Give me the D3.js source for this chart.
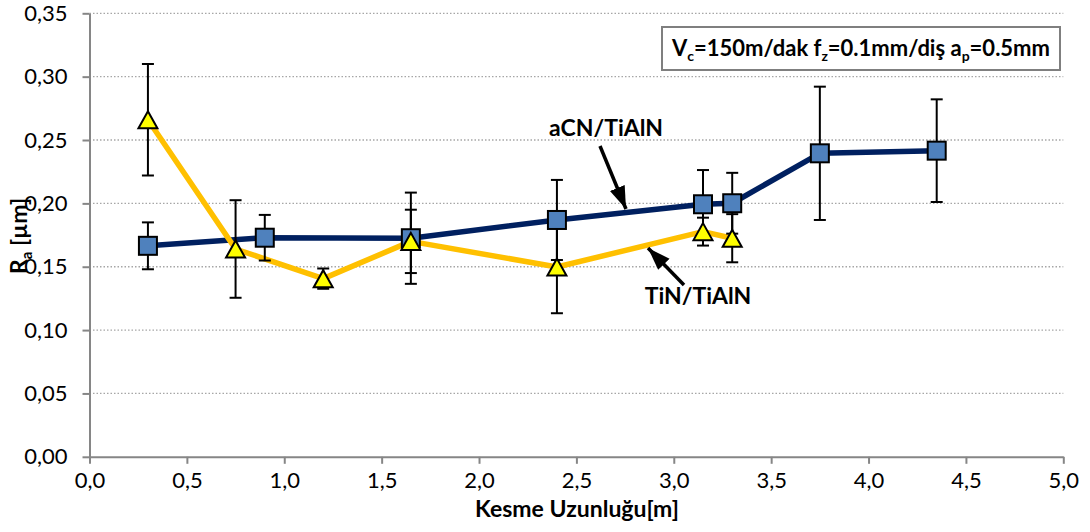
<!DOCTYPE html>
<html>
<head>
<meta charset="utf-8">
<script src="https://cdn.jsdelivr.net/npm/d3@7"></script>
<style>
  html, body { margin: 0; padding: 0; background: #fff; }
  svg { display: block; }
  text { font-family: Lato, "Open Sans", sans-serif; fill: #000; }
</style>
</head>
<body>
<svg id="chart" width="1090" height="532"></svg>
<script>
// ---- data ----
const xTicks = [0, 0.5, 1, 1.5, 2, 2.5, 3, 3.5, 4, 4.5, 5];
const yTicks = [0, 0.05, 0.10, 0.15, 0.20, 0.25, 0.30, 0.35];

const acnX   = [0.3, 0.9, 1.65, 2.4, 3.15, 3.3, 3.75, 4.35];
const acnY   = [0.1665, 0.1729, 0.1725, 0.1869, 0.1993, 0.2001, 0.2395, 0.2416];
const acnErr = [0.0185, 0.018, 0.036, 0.0316, 0.027, 0.024, 0.0526, 0.0405];

const tinX   = [0.3, 0.75, 1.2, 1.65, 2.4, 3.15, 3.3];
const tinY   = [0.266, 0.164, 0.1406, 0.170, 0.1498, 0.1777, 0.1725];
const tinErr = [0.044, 0.0385, 0.008, 0.025, 0.0365, 0.011, 0.019];

const seriesNames = ["aCN/TiAlN", "TiN/TiAlN"];
const xTitle = "Kesme Uzunluğu[m]";

// ---- layout ----
const svg = d3.select("#chart");
const x = d3.scaleLinear().domain([0, 5]).range([89.5, 1063.3]);
const y = d3.scaleLinear().domain([0, 0.35]).range([456.8, 13.3]);
const fmtX = v => d3.format(".1f")(v).replace(".", ",");
const fmtY = v => d3.format(".2f")(v).replace(".", ",");

// gridlines
svg.append("g").selectAll("line").data(yTicks.filter(d => d > 0)).join("line")
  .attr("x1", x(0)).attr("x2", x(5))
  .attr("y1", d => y(d)).attr("y2", d => y(d))
  .attr("stroke", "#a6a6a6").attr("stroke-width", 1.3)
  .attr("stroke-dasharray", "1.5,2");

// axes
const gx = svg.append("g").attr("transform", `translate(0,${y(0)})`)
  .call(d3.axisBottom(x).tickValues(xTicks).tickFormat(fmtX).tickSize(7).tickSizeOuter(0).tickPadding(9));
const gy = svg.append("g").attr("transform", `translate(${x(0)},0)`)
  .call(d3.axisLeft(y).tickValues(yTicks).tickFormat(fmtY).tickSize(7).tickSizeOuter(0).tickPadding(15));
[gx, gy].forEach(g => {
  g.select(".domain").attr("stroke", "#868686").attr("stroke-width", 2);
  g.selectAll(".tick line").attr("stroke", "#868686").attr("stroke-width", 2);
  g.selectAll("text").style("font-family", "Lato, sans-serif").style("font-size", "22px").attr("fill", "#000");
});

// lines
const line = d3.line().x(d => x(d[0])).y(d => y(d[1]));
const acn = acnX.map((v, i) => [v, acnY[i], acnErr[i]]);
const tin = tinX.map((v, i) => [v, tinY[i], tinErr[i]]);

svg.append("path").datum(acn).attr("d", line)
  .attr("fill", "none").attr("stroke", "#002060").attr("stroke-width", 5.5).attr("stroke-linejoin", "round");
svg.append("path").datum(tin).attr("d", line)
  .attr("fill", "none").attr("stroke", "#FFC000").attr("stroke-width", 5.5).attr("stroke-linejoin", "round");

// error bars
function errBars(data) {
  const g = svg.append("g").attr("stroke", "#000").attr("stroke-width", 2);
  data.forEach(d => {
    const cx = x(d[0]), y1 = y(d[1] + d[2]), y2 = y(d[1] - d[2]);
    g.append("line").attr("x1", cx).attr("x2", cx).attr("y1", y1).attr("y2", y2);
    g.append("line").attr("x1", cx - 6).attr("x2", cx + 6).attr("y1", y1).attr("y2", y1);
    g.append("line").attr("x1", cx - 6).attr("x2", cx + 6).attr("y1", y2).attr("y2", y2);
  });
}
errBars(acn);
errBars(tin);

// markers
svg.append("g").selectAll("rect").data(acn).join("rect")
  .attr("x", d => x(d[0]) - 9).attr("y", d => y(d[1]) - 9)
  .attr("width", 18).attr("height", 18)
  .attr("fill", "#4F81BD").attr("stroke", "#000").attr("stroke-width", 2);
svg.append("g").selectAll("path").data(tin).join("path")
  .attr("d", d => {
    const cx = x(d[0]), cy = y(d[1]);
    return `M${cx},${cy - 8.5}L${cx + 9.5},${cy + 8.5}L${cx - 9.5},${cy + 8.5}Z`;
  })
  .attr("fill", "#FFFF00").attr("stroke", "#000").attr("stroke-width", 2).attr("stroke-linejoin", "miter");

// series labels with arrows
svg.append("defs").append("marker").attr("id", "arr")
  .attr("viewBox", "0 0 10 10").attr("refX", 10).attr("refY", 5)
  .attr("markerWidth", 6.5).attr("markerHeight", 6.5).attr("orient", "auto")
  .attr("markerUnits", "strokeWidth")
  .append("path").attr("d", "M0,1.5L10,5L0,8.5Z").attr("fill", "#000");

svg.append("line").attr("x1", 600).attr("y1", 146).attr("x2", 626).attr("y2", 209)
  .attr("stroke", "#000").attr("stroke-width", 3.5).attr("marker-end", "url(#arr)");
svg.append("line").attr("x1", 684).attr("y1", 285).attr("x2", 648).attr("y2", 248)
  .attr("stroke", "#000").attr("stroke-width", 3.5).attr("marker-end", "url(#arr)");

svg.append("text").attr("x", 606).attr("y", 136).attr("text-anchor", "middle")
  .style("font-weight", "bold").style("font-size", "23px").text(seriesNames[0]);
svg.append("text").attr("x", 698).attr("y", 304).attr("text-anchor", "middle")
  .style("font-weight", "bold").style("font-size", "23px").text(seriesNames[1]);

// condition box
svg.append("rect").attr("x", 662).attr("y", 27).attr("width", 398).attr("height", 43)
  .attr("fill", "#fff").attr("stroke", "#7f7f7f").attr("stroke-width", 2);
const cond = svg.append("text").attr("x", 861).attr("y", 56).attr("text-anchor", "middle")
  .style("font-weight", "bold").style("font-size", "22px");
const parts = [["V", ""], ["c", "sub"], ["=150m/dak f", ""], ["z", "sub"], ["=0.1mm/diş a", ""], ["p", "sub"], ["=0.5mm", ""]];
parts.forEach((p, i) => {
  const t = cond.append("tspan").text(p[0]);
  if (p[1] === "sub") t.attr("dy", 5).style("font-size", "14px");
  else if (i > 0) t.attr("dy", -5);
});

// axis titles
svg.append("text").attr("x", 577).attr("y", 517).attr("text-anchor", "middle")
  .style("font-weight", "bold").style("font-size", "23px").text(xTitle);
const yt = svg.append("text").attr("transform", "translate(27,236) rotate(-90)")
  .attr("text-anchor", "middle").style("font-weight", "bold").style("font-size", "23px");
yt.append("tspan").text("R");
yt.append("tspan").attr("dy", 5).style("font-size", "15px").text("a");
yt.append("tspan").attr("dy", -5).text(" [µm]");
</script>
</body>
</html>
